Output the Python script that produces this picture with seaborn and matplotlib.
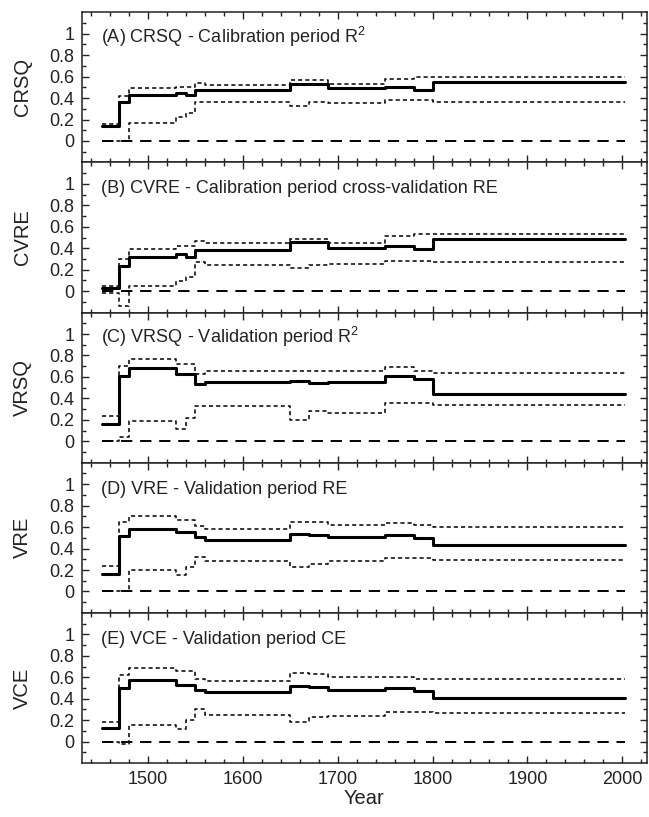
import matplotlib
matplotlib.use("Agg")
import matplotlib.pyplot as plt
from matplotlib.ticker import MultipleLocator, FixedLocator
import seaborn as sns
import numpy as np

# ---- data -------------------------------------------------------------
# segment start years (step functions, steps-post); last year closes the series
years = [1452, 1470, 1480, 1530, 1540, 1550, 1560, 1650, 1670, 1690, 1750, 1780, 1800]
end_year = 2003

panel_names = ["CRSQ", "CVRE", "VRSQ", "VRE", "VCE"]
panel_titles = [
    "(A) CRSQ - Calibration period R$^2$",
    "(B) CVRE - Calibration period cross-validation RE",
    "(C) VRSQ - Validation period R$^2$",
    "(D) VRE - Validation period RE",
    "(E) VCE - Validation period CE",
]

crsq_mid = [0.14, 0.36, 0.43, 0.45, 0.425, 0.475, 0.475, 0.535, 0.535, 0.49, 0.50, 0.475, 0.55]
crsq_up = [0.16, 0.42, 0.49, 0.505, 0.505, 0.54, 0.525, 0.57, 0.57, 0.53, 0.58, 0.60, 0.595]
crsq_lo = [0.0, 0.0, 0.17, 0.22, 0.26, 0.36, 0.36, 0.325, 0.36, 0.355, 0.38, 0.385, 0.365]

cvre_mid = [0.03, 0.234, 0.318, 0.35, 0.32, 0.385, 0.385, 0.458, 0.458, 0.40, 0.42, 0.39, 0.49]
cvre_up = [0.047, 0.296, 0.39, 0.42, 0.42, 0.467, 0.445, 0.49, 0.49, 0.45, 0.513, 0.535, 0.53]
cvre_lo = [-0.015, -0.14, 0.047, 0.093, 0.13, 0.27, 0.243, 0.218, 0.243, 0.25, 0.28, 0.28, 0.268]

vrsq_mid = [0.159, 0.61, 0.68, 0.626, 0.626, 0.533, 0.55, 0.564, 0.548, 0.557, 0.61, 0.583, 0.443]
vrsq_up = [0.234, 0.70, 0.763, 0.72, 0.72, 0.632, 0.657, 0.657, 0.657, 0.652, 0.697, 0.66, 0.635]
vrsq_lo = [0.0, 0.04, 0.187, 0.112, 0.22, 0.327, 0.327, 0.20, 0.28, 0.262, 0.357, 0.357, 0.334]

vre_mid = [0.162, 0.514, 0.586, 0.55, 0.55, 0.505, 0.483, 0.54, 0.53, 0.51, 0.53, 0.50, 0.434]
vre_up = [0.234, 0.645, 0.707, 0.67, 0.67, 0.607, 0.583, 0.645, 0.645, 0.615, 0.64, 0.618, 0.60]
vre_lo = [0.0, 0.0, 0.196, 0.156, 0.227, 0.32, 0.28, 0.227, 0.258, 0.28, 0.316, 0.316, 0.29]

vce_mid = [0.128, 0.50, 0.57, 0.53, 0.53, 0.483, 0.46, 0.517, 0.508, 0.483, 0.50, 0.47, 0.404]
vce_up = [0.187, 0.617, 0.688, 0.654, 0.654, 0.586, 0.564, 0.64, 0.626, 0.60, 0.60, 0.585, 0.58]
vce_lo = [0.0, -0.02, 0.156, 0.118, 0.206, 0.305, 0.25, 0.18, 0.227, 0.24, 0.28, 0.28, 0.27]

zero_line = [0.0, 0.0]

series = [
    (crsq_mid, crsq_up, crsq_lo),
    (cvre_mid, cvre_up, cvre_lo),
    (vrsq_mid, vrsq_up, vrsq_lo),
    (vre_mid, vre_up, vre_lo),
    (vce_mid, vce_up, vce_lo),
]

xticks = [1500, 1600, 1700, 1800, 1900, 2000]
yticks = [0, 0.2, 0.4, 0.6, 0.8, 1]
ytick_labels = ["0", "0.2", "0.4", "0.6", "0.8", "1"]

# ---- style ------------------------------------------------------------
sns.set_theme(style="ticks")
plt.rcParams["font.family"] = ["Liberation Sans", "DejaVu Sans"]
plt.rcParams["mathtext.fontset"] = "custom"
plt.rcParams["mathtext.rm"] = "Liberation Sans"
plt.rcParams["mathtext.it"] = "Liberation Sans:italic"
plt.rcParams["axes.linewidth"] = 1.1
plt.rcParams["axes.edgecolor"] = "#222222"

fig, axes = plt.subplots(5, 1, figsize=(6.49, 8.17), dpi=100, sharex=True)
fig.subplots_adjust(left=0.126, right=0.997, top=0.985, bottom=0.066, hspace=0)

xs = years + [end_year]

for i, ax in enumerate(axes):
    mid, up, lo = series[i]
    for vals in (up, lo):
        sns.lineplot(x=xs, y=vals + [vals[-1]], ax=ax, color="black",
                     linewidth=1.1, drawstyle="steps-post", sort=False)
        ax.lines[-1].set_dashes((2.7, 2.0))
    sns.lineplot(x=[years[0], end_year], y=zero_line, ax=ax, color="black",
                 linewidth=1.4, sort=False)
    ax.lines[-1].set_dashes((5.8, 4.0))
    sns.lineplot(x=xs, y=mid + [mid[-1]], ax=ax, color="black",
                 linewidth=2.2, drawstyle="steps-post", sort=False)

    ax.set_xlim(1430.5, 2026)
    ax.set_ylim(-0.2, 1.2)
    ax.yaxis.set_major_locator(FixedLocator(yticks))
    ax.set_yticklabels(ytick_labels)
    ax.yaxis.set_minor_locator(FixedLocator([-0.1, 0.1, 0.3, 0.5, 0.7, 0.9, 1.1]))
    ax.xaxis.set_major_locator(FixedLocator(xticks))
    ax.xaxis.set_minor_locator(MultipleLocator(20))
    ax.tick_params(which="both", direction="in", top=True, right=True,
                   color="#222222", width=1.0)
    ax.tick_params(which="major", length=5, labelsize=13, pad=5.5,
                   labelcolor="#222222")
    ax.tick_params(which="minor", length=3)
    ax.set_ylabel(panel_names[i], fontsize=14.5, color="#222222")
    ax.yaxis.set_label_coords(-0.088, 0.5)
    ax.text(0.034, 0.795, panel_titles[i], transform=ax.transAxes,
            fontsize=13, ha="left", va="baseline", color="#222222")
    for sp in ax.spines.values():
        sp.set_visible(True)

axes[-1].set_xticklabels([str(t) for t in xticks])
axes[-1].set_xlabel("Year", fontsize=14.5, color="#222222")
axes[-1].xaxis.set_label_coords(0.5, -0.175)

fig.savefig("out.png", dpi=100)
